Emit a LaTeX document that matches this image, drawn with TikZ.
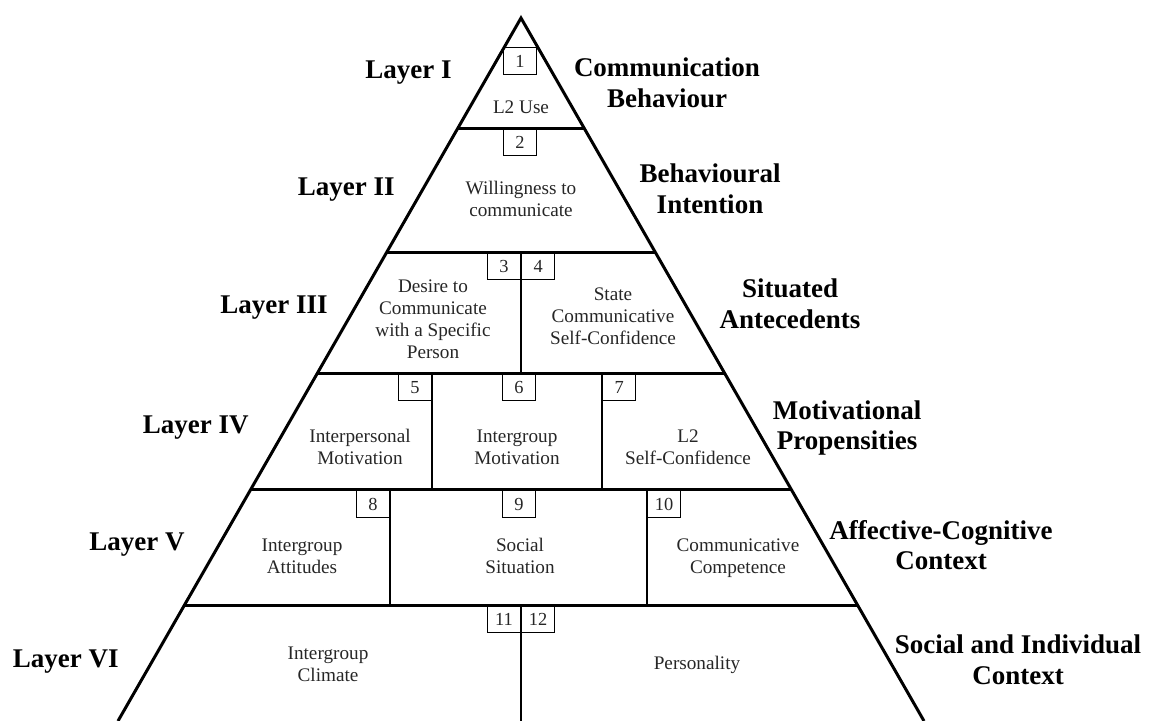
\documentclass[tikz,border=0pt]{standalone}
\usepackage{fontspec}
\setmainfont{Liberation Serif}
\usetikzlibrary{calc}

\tikzset{
	layerlabel/.style={font=\fontsize{13.5}{15.3}\selectfont\bfseries, align=center, inner sep=0pt},
	celltext/.style={font=\fontsize{9.6}{11}\selectfont, align=center, text=black!85, inner sep=0pt},
	numbox/.style={draw, line width=0.6pt, minimum width=16.5pt, minimum height=13.5pt, inner sep=0pt, text=black!85, font=\fontsize{9.2}{9.2}\selectfont},
	edge/.style={line width=1.5pt},
	divider/.style={line width=1.2pt}
}

\begin{document}
\begin{tikzpicture}[x=0.5pt,y=-0.5pt]
		\useasboundingbox (0,0) rectangle (1156,721);
		
		% pyramid outline
		\coordinate (apex) at (521,18);
		\coordinate (bl) at (118,721);
		\coordinate (br) at (924,721);
		\draw[edge, line join=miter] (bl) -- (apex) -- (br);
		
		% layer borders
		\foreach \t in {0.1565,0.3329,0.505,0.6714,0.835}
			\draw[edge] ($(apex)!\t!(bl)$) -- ($(apex)!\t!(br)$);
		
		% dividers
		\draw[divider] (521,252) -- (521,373);
		\draw[divider] (432,373) -- (432,490);
		\draw[divider] (602,373) -- (602,490);
		\draw[divider] (390,490) -- (390,605);
		\draw[divider] (647,490) -- (647,605);
		\draw[divider] (521,605) -- (521,721);
		
		% numbered boxes
		\node[numbox, anchor=north] at (520,47) (b1) {1};
		\node[numbox, anchor=north] at (520,128) (b2) {2};
		\node[numbox, anchor=north east] at (521,252) (b3) {3};
		\node[numbox, anchor=north west] at (521,252) (b4) {4};
		\node[numbox, anchor=north east] at (432,373) (b5) {5};
		\node[numbox, anchor=north] at (519,373) (b6) {6};
		\node[numbox, anchor=north west] at (602,373) (b7) {7};
		\node[numbox, anchor=north east] at (390,490) (b8) {8};
		\node[numbox, anchor=north] at (519,490) (b9) {9};
		\node[numbox, anchor=north west] at (647,490) (b10) {10};
		\node[numbox, anchor=north east] at (521,605) (b11) {11};
		\node[numbox, anchor=north west] at (521,605) (b12) {12};
		
		% cell texts
		\node[celltext] at (521,107) (use) {L2 Use};
		\node[celltext] at (521,199) (wtc) {Willingness to\\communicate};
		\node[celltext] at (433,319) (desire) {Desire to\\Communicate\\with a Specific\\Person};
		\node[celltext] at (613,316) (state) {State\\Communicative\\Self-Confidence};
		\node[celltext] at (360,447) (interp) {Interpersonal\\Motivation};
		\node[celltext] at (517,447) (intergr) {Intergroup\\Motivation};
		\node[celltext] at (688,447) (selfconf) {L2\\Self-Confidence};
		\node[celltext] at (302,556) (attit) {Intergroup\\Attitudes};
		\node[celltext] at (520,556) (situation) {Social\\Situation};
		\node[celltext] at (738,558) (compet) {Communicative\\Competence};
		\node[celltext] at (328,664) (climate) {Intergroup\\Climate};
		\node[celltext] at (697,665) (person) {Personality};
		
		% layer names
		\node[layerlabel, anchor=east] at (452,73) (l1) {Layer I};
		\node[layerlabel, anchor=east] at (395,190) (l2) {Layer II};
		\node[layerlabel, anchor=east] at (328,308) (l3) {Layer III};
		\node[layerlabel, anchor=east] at (249,428) (l4) {Layer IV};
		\node[layerlabel, anchor=east] at (185,545) (l5) {Layer V};
		\node[layerlabel, anchor=east] at (119,662) (l6) {Layer VI};
		
		% layer meanings
		\node[layerlabel] at (667,83) (r1) {Communication\\Behaviour};
		\node[layerlabel] at (710,189) (r2) {Behavioural\\Intention};
		\node[layerlabel] at (790,304) (r3) {Situated\\Antecedents};
		\node[layerlabel] at (847,428) (r4) {Motivational\\Propensities};
		\node[layerlabel] at (941,545) (r5) {Affective-Cognitive\\Context};
		\node[layerlabel] at (1018,660) (r6) {Social and Individual\\Context};
\end{tikzpicture}
\end{document}
